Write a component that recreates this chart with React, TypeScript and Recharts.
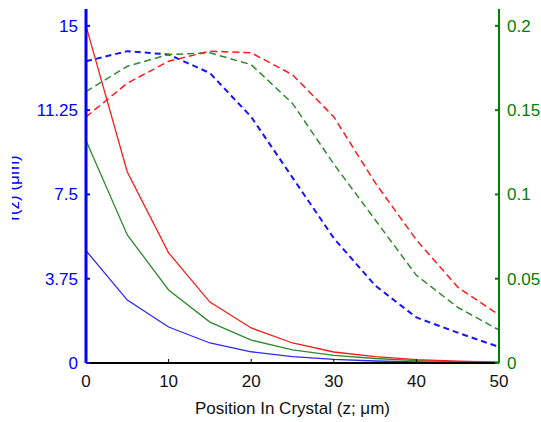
import { LineChart, Line, XAxis, YAxis } from "recharts";

// position in crystal (z, µm)
const positions = [0, 5, 10, 15, 20, 25, 30, 35, 40, 45, 50];

// solid curves, left axis
const solidBlue = [5.0, 2.8, 1.6, 0.89, 0.5, 0.28, 0.16, 0.09, 0.05, 0.028, 0.016];
const solidGreen = [9.9, 5.7, 3.25, 1.82, 1.02, 0.58, 0.34, 0.2, 0.11, 0.06, 0.03];
const solidRed = [15.0, 8.5, 4.9, 2.71, 1.56, 0.89, 0.49, 0.28, 0.15, 0.08, 0.04];

// dashed curves, right axis
const dashBlue = [0.179, 0.185, 0.183, 0.172, 0.146, 0.11, 0.074, 0.046, 0.027, 0.018, 0.0095];
const dashGreen = [0.161, 0.176, 0.183, 0.184, 0.177, 0.154, 0.118, 0.085, 0.052, 0.033, 0.0196];
const dashRed = [0.146, 0.166, 0.179, 0.185, 0.184, 0.171, 0.146, 0.107, 0.073, 0.045, 0.0285];

const xTicks = [0, 10, 20, 30, 40, 50];
const leftTicks = [0, 3.75, 7.5, 11.25, 15];
const rightTicks = [0, 0.05, 0.1, 0.15, 0.2];

const rows = positions.map((z, i) => ({
  z,
  sb: solidBlue[i],
  sg: solidGreen[i],
  sr: solidRed[i],
  db: dashBlue[i],
  dg: dashGreen[i],
  dr: dashRed[i],
}));

const BLUE = "#0000ff";
const GREEN = "#008000";
const RED = "#ff1a1a";
const FONT = "'Liberation Sans', Arial, sans-serif";

function LeftTitle() {
  return (
    <text
      x={6.5}
      y={188}
      transform="rotate(-90 6.5 188)"
      textAnchor="middle"
      fill={BLUE}
      fontSize={17}
      fontFamily={FONT}
    >
      r(z) (μm)
    </text>
  );
}

function BottomTitle() {
  return (
    <text x={280.5} y={414} textAnchor="middle" fill="#111" fontSize={17} fontFamily={FONT}>
      Position In Crystal (z; μm)
    </text>
  );
}

export default function App() {
  return (
    <div style={{ position: "absolute", left: 12, top: 0, width: 529, height: 422, overflow: "hidden", background: "#fff" }}>
      <LineChart
        width={529}
        height={422}
        data={rows}
        margin={{ top: 9, right: 2, left: 14, bottom: 19 }}
        style={{ fontFamily: FONT }}
      >
        <XAxis
          dataKey="z"
          type="number"
          domain={[0, 50]}
          ticks={xTicks}
          height={40}
          stroke="#000"
          axisLine={{ stroke: "#000", strokeWidth: 2 }}
          tickLine={{ stroke: "#000" }}
          tickSize={-4}
          tickMargin={16}
          tick={{ fill: "#111", fontSize: 17 }}
          label={<BottomTitle />}
        />
        <XAxis
          xAxisId="top"
          orientation="top"
          dataKey="z"
          type="number"
          domain={[0, 50]}
          height={0}
          tick={false}
          tickLine={false}
          axisLine={{ stroke: "#000", strokeWidth: 2 }}
        />
        <YAxis
          yAxisId="left"
          domain={[0, 15.75]}
          ticks={leftTicks}
          width={60}
          axisLine={{ stroke: BLUE, strokeWidth: 3 }}
          tickLine={{ stroke: BLUE, strokeWidth: 2 }}
          tickSize={-4}
          tickMargin={12}
          tick={{ fill: BLUE, fontSize: 17 }}
          label={<LeftTitle />}
        />
        <YAxis
          yAxisId="right"
          orientation="right"
          domain={[0, 0.21]}
          ticks={rightTicks}
          width={40}
          axisLine={{ stroke: GREEN, strokeWidth: 2 }}
          tickLine={{ stroke: GREEN, strokeWidth: 2 }}
          tickSize={-4}
          tickMargin={12}
          tick={{ fill: GREEN, fontSize: 17, textAnchor: "start" }}
        />
        <Line yAxisId="left" dataKey="sb" stroke="#2a2aff" strokeWidth={1.3} dot={false} isAnimationActive={false} />
        <Line yAxisId="left" dataKey="sg" stroke="#2e8b2e" strokeWidth={1.3} dot={false} isAnimationActive={false} />
        <Line yAxisId="left" dataKey="sr" stroke={RED} strokeWidth={1.3} dot={false} isAnimationActive={false} />
        <Line yAxisId="right" dataKey="db" stroke="#1414ff" strokeWidth={2} strokeDasharray="6 4" dot={false} isAnimationActive={false} />
        <Line yAxisId="right" dataKey="dg" stroke="#2e8b2e" strokeWidth={1.5} strokeDasharray="7 4" dot={false} isAnimationActive={false} />
        <Line yAxisId="right" dataKey="dr" stroke={RED} strokeWidth={1.5} strokeDasharray="7 4" dot={false} isAnimationActive={false} />
      </LineChart>
    </div>
  );
}
